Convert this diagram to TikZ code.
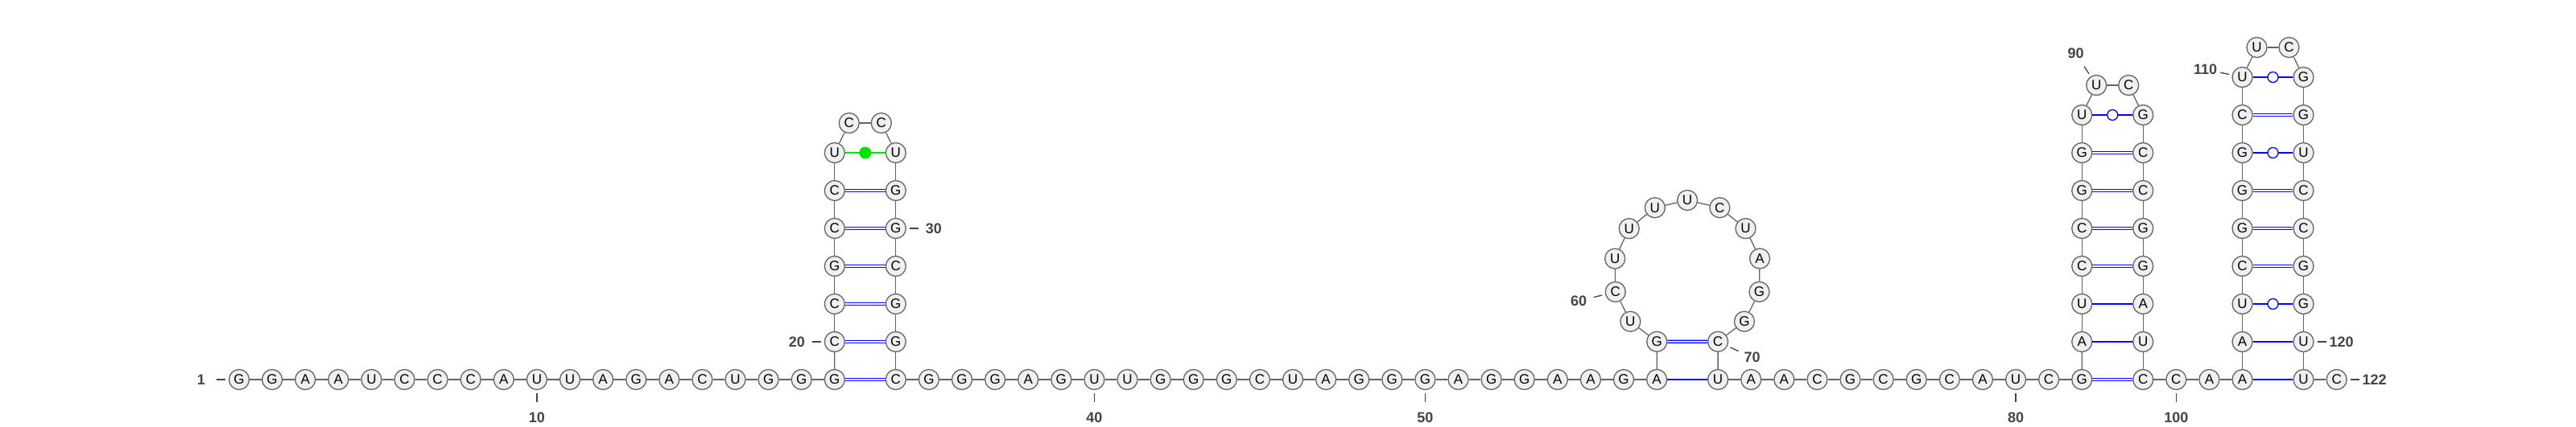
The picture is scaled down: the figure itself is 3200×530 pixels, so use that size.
\documentclass[tikz,border=0pt]{standalone}
\usepackage{fontspec}
\setmainfont{Liberation Sans}
\usepackage{xcolor}
\usepackage{tikz}

\definecolor{ntfill}{RGB}{240,240,240}
\definecolor{ntline}{RGB}{100,100,100}
\definecolor{pairblue}{RGB}{0,0,255}
\definecolor{pairgreen}{RGB}{0,225,0}
\definecolor{numgray}{RGB}{68,68,68}

\begin{document}
\begin{tikzpicture}[x=1pt, y=-1pt,
    nt/.style={circle, draw=ntline, fill=ntfill, line width=1.3pt, minimum size=25pt, inner sep=0pt, font=\fontsize{17}{17}\selectfont},
    backbone/.style={draw=ntline, line width=1.3pt},
    wc/.style={draw=pairblue, line width=1.5pt, double=white, double distance=1.5pt},
    au/.style={draw=pairblue, line width=1.4pt},
    gu/.style={circle, draw=pairblue, fill=white, line width=1.3pt, minimum size=13pt, inner sep=0pt},
    nc/.style={circle, fill=pairgreen, minimum size=15pt, inner sep=0pt},
    numtick/.style={draw=numgray, line width=1.3pt},
    num/.style={text=numgray, font=\fontsize{18}{18}\selectfont\bfseries}]
\useasboundingbox (0,0) rectangle (3200,530);

% Define constants
\def\dx{41.1}   % spacing along the strand
\def\dy{47}     % spacing up a stem
\def\base{472}  % base line of the strand

% Draw the strand along the base line
\foreach \b [count=\k from 1] in {G,G,A,A,U,C,C,C,A,U,U,A,G,A,C,U,G,G,G}
  \node[nt] (n\k) at ({297+(\k-1)*\dx}, \base) {\b};
\foreach \b [count=\k from 34] in {C,G,G,G,A,G,U,U,G,G,G,C,U,A,G,G,G,A,G,G,A,A,G,A}
  \node[nt] (n\k) at ({1112.8+(\k-34)*\dx}, \base) {\b};
\foreach \b [count=\k from 71] in {U,A,A,C,G,C,G,C,A,U,C,G}
  \node[nt] (n\k) at ({2134.1+(\k-71)*\dx}, \base) {\b};
\foreach \b [count=\k from 99] in {C,C,A,A}
  \node[nt] (n\k) at ({2662.2+(\k-99)*\dx}, \base) {\b};
\foreach \b [count=\k from 121] in {U,C}
  \node[nt] (n\k) at ({2861.5+(\k-121)*\dx}, \base) {\b};

% Draw the first hairpin
\foreach \b [count=\k from 20] in {C,C,G,C,C,U}
  \node[nt] (n\k) at (1036.8, {\base-(\k-19)*\dy}) {\b};
\node[nt] (n26) at (1054.8,153) {C};
\node[nt] (n27) at (1094.8,153) {C};
\foreach \b [count=\k from 28] in {U,G,G,C,G,G}
  \node[nt] (n\k) at (1112.8, {\base-(34-\k)*\dy}) {\b};

% Draw the big loop on a circle
\foreach \b [count=\k from 58] in {G,U,C,U,U,U,U,C,U,A,G,G,C}
  \node[nt] (n\k) at ({2096.1+92*cos(245.66-(\k-58)*25.94)}, {341-92*sin(245.66-(\k-58)*25.94)}) {\b};

% Draw the third hairpin
\foreach \b [count=\k from 83] in {A,U,C,C,G,G,U}
  \node[nt] (n\k) at (2586.2, {\base-(\k-82)*\dy}) {\b};
\node[nt] (n90) at (2604.2,106) {U};
\node[nt] (n91) at (2644.2,106) {C};
\foreach \b [count=\k from 92] in {G,C,C,G,G,A,U}
  \node[nt] (n\k) at (2662.2, {\base-(99-\k)*\dy}) {\b};

% Draw the fourth hairpin
\foreach \b [count=\k from 103] in {A,U,C,G,G,G,C,U}
  \node[nt] (n\k) at (2785.5, {\base-(\k-102)*\dy}) {\b};
\node[nt] (n111) at (2803.5,59) {U};
\node[nt] (n112) at (2843.5,59) {C};
\foreach \b [count=\k from 113] in {G,G,U,C,C,G,G,U}
  \node[nt] (n\k) at (2861.5, {\base-(121-\k)*\dy}) {\b};

% Backbone
\foreach \i [count=\j from 2] in {1,...,121}
  \draw[backbone] (n\i) -- (n\j);

% Base pairs
\foreach \p/\q in {19/34,20/33,21/32,22/31,23/30,24/29,58/70,82/99,85/96,86/95,87/94,88/93,105/118,106/117,107/116,109/114}
  \draw[wc] (n\p) -- (n\q);
\foreach \p/\q in {57/71,83/98,84/97,102/121,103/120}
  \draw[au] (n\p) -- (n\q);
\foreach \p/\q in {89/92,104/119,108/115,110/113}
  \draw[au] (n\p) -- (n\q) node[midway, gu] {};
\draw[draw=pairgreen, line width=1.4pt] (n25) -- (n28) node[midway, nc] {};

% Numbering
\foreach \k/\ang in {1/180,10/90,20/180,30/0,40/90,50/90,60/166,70/25,80/90,90/237,100/90,110/192,120/0,122/0} {
  \draw[numtick] (n\k) ++(\ang:17) -- ++(\ang:11);
  \path (n\k) ++(\ang:47) node[num] (l\k) {\k};
}

\end{tikzpicture}
\end{document}
